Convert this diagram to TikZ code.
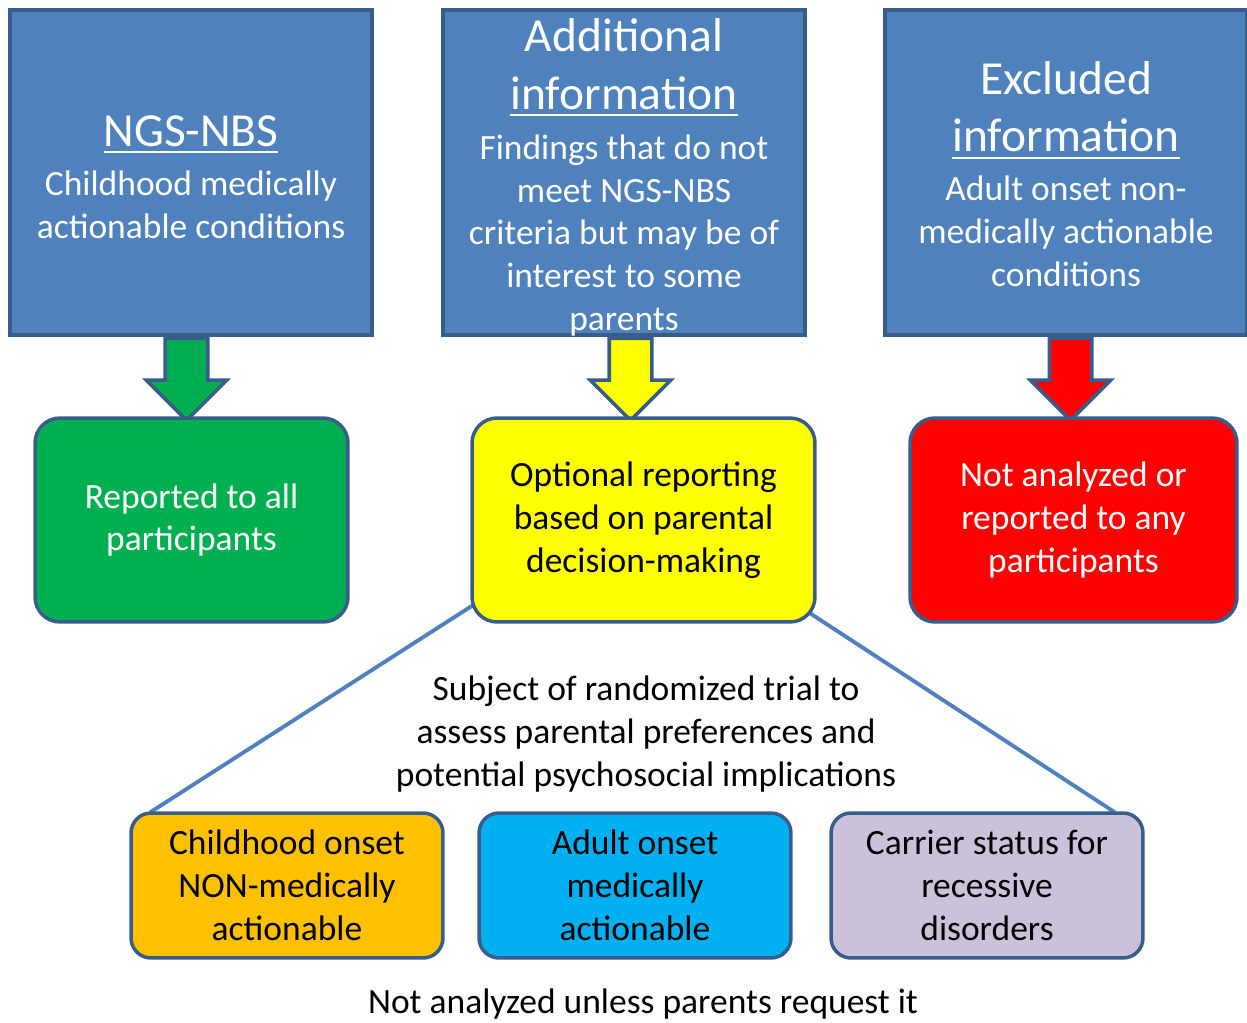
\documentclass[tikz,border=0pt]{standalone}
\usepackage{fontspec}
\setmainfont{Carlito}
\usepackage{tikz}
\usetikzlibrary{positioning, shapes.arrows, backgrounds}

\definecolor{boxblue}{HTML}{4F81BD}
\definecolor{edgeblue}{HTML}{385D8A}
\definecolor{okgreen}{HTML}{00B050}
\definecolor{optyellow}{HTML}{FFFF00}
\definecolor{stopred}{HTML}{FF0000}
\definecolor{childorange}{HTML}{FFC000}
\definecolor{adultcyan}{HTML}{00B0F0}
\definecolor{carrierlilac}{HTML}{CCC1DA}

\newcommand{\headfont}{\fontsize{27}{33}\selectfont}
\newcommand{\headline}[1]{\sbox0{#1}\rlap{\rule[-4pt]{\wd0}{1.3pt}}\usebox0}

\begin{document}
\begin{tikzpicture}[x=0.02cm, y=-0.02cm,
    body/.style={font=\fontsize{20.2}{24.4}\selectfont, align=center},
    topbox/.style={draw=edgeblue, line width=2pt, fill=boxblue,
                   minimum width=7.24cm, minimum height=6.5cm},
    toptext/.style={body, text=white},
    outbox/.style={body, draw=edgeblue, line width=2pt,
                   rounded corners=0.5cm, minimum height=4.08cm},
    subbox/.style={body, draw=edgeblue, line width=2pt, rounded corners=0.4cm,
                   minimum width=6.24cm, minimum height=2.9cm},
    downarrow/.style={single arrow, draw=edgeblue, line width=2pt,
                      shape border rotate=270, inner sep=0.39cm,
                      minimum width=1.5cm, minimum height=1.64cm,
                      single arrow head extend=0.38cm},
    link/.style={draw=boxblue, line width=2.2pt}
  ]
  \useasboundingbox (0,0) rectangle (1247,1023);

  \node[topbox] (ngs) at (191,172.5) {};
  \node[topbox] (addl) at (624,172.5) {};
  \node[topbox] (excl) at (1066,172.5) {};
  \node[toptext, yshift=-0.09cm] (ngstext) at (ngs) {{\headfont\headline{NGS-NBS}}\\[3.4pt]
    Childhood medically\\actionable conditions};
  \node[toptext, yshift=-0.1cm] (addltext) at (addl) {{\headfont Additional}\\[8.5pt]
    {\headfont\headline{information}}\\[4pt]Findings that do not\\meet NGS-NBS\\
    criteria but may be of\\interest to some\\parents};
  \node[toptext, yshift=-0.03cm] (excltext) at (excl) {{\headfont Excluded}\\[8.5pt]
    {\headfont\headline{information}}\\[3.4pt]Adult onset non-\\
    medically actionable\\conditions};

  \node[downarrow, fill=okgreen, anchor=tail] (arrall) at ([xshift=-0.09cm]ngs.south) {};
  \node[downarrow, fill=optyellow, anchor=tail] (arropt) at ([xshift=0.13cm]addl.south) {};
  \node[downarrow, fill=stopred, anchor=tail] (arrnone) at ([xshift=0.09cm]excl.south) {};

  \node[outbox, fill=okgreen, text=white, minimum width=6.26cm] (all) at (191.5,520) {Reported to all\\participants};
  \node[outbox, fill=optyellow, minimum width=6.86cm] (opt) at (643.5,520) {Optional reporting\\based on parental\\decision-making};
  \node[outbox, fill=stopred, text=white, minimum width=6.54cm] (none) at (1073.5,520) {Not analyzed or\\reported to any\\participants};

  \node[subbox, fill=childorange] (childns) at (287,885.5) {Childhood onset\\NON-medically\\actionable};
  \node[subbox, fill=adultcyan] (adultma) at (635,885.5) {Adult onset\\medically\\actionable};
  \node[subbox, fill=carrierlilac] (carrier) at (987,885.5) {Carrier status for\\recessive\\disorders};

  \begin{pgfonlayer}{background}
    \draw[link] ([xshift=0.1cm, yshift=0.4cm]opt.south west) -- ([xshift=0.42cm, yshift=-0.02cm]childns.north west);
    \draw[link] ([xshift=-0.18cm, yshift=0.24cm]opt.south east) -- ([xshift=-0.6cm, yshift=-0.02cm]carrier.north east);
  \end{pgfonlayer}

  \node[body] (trial) at (646,734) {Subject of randomized trial to\\assess parental preferences and\\potential psychosocial implications};
  \node[body] (request) at (643,1004) {Not analyzed unless parents request it};
\end{tikzpicture}
\end{document}
